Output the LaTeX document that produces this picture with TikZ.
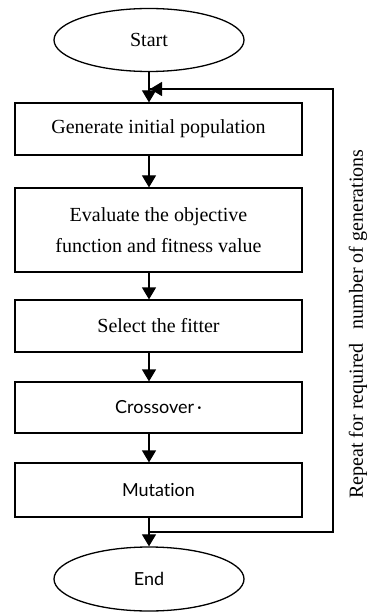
\documentclass[tikz,border=0pt]{standalone}
\usepackage{fontspec}
\setmainfont{Liberation Serif}
\newfontfamily\gillish[Ligatures={NoCommon,NoDiscretionary}]{Lato}
\usetikzlibrary{arrows.meta,shapes.geometric}
\tikzset{
  flowbox/.style={draw, line width=1.2pt, minimum width=287pt, inner sep=0pt, font=\fontsize{20}{31}\selectfont, align=center},
  term/.style={draw, ellipse, line width=1.3pt, minimum width=190pt, minimum height=63pt, inner sep=0pt, font=\fontsize{20}{24}\selectfont},
  sanslabel/.style={font=\gillish\fontsize{18}{22}\selectfont},
  flow/.style={line width=1.2pt, -{Triangle[length=12pt,width=14pt]}},
  loopline/.style={line width=1.4pt}
}
\begin{document}
\begin{tikzpicture}[x=1pt,y=-1pt]
\useasboundingbox (0,0) rectangle (377,612);
\node[term] (start) at (149,40) {Start};
\node[flowbox, minimum height=52pt] (gen) at (158.5,129) {Generate initial population};
\node[flowbox, minimum height=84pt] (eval) at (158.5,230) {Evaluate the objective\\function and fitness value};
\node[flowbox, minimum height=52pt] (sel) at (158.5,326) {Select the fitter};
\node[flowbox, minimum height=51pt, sanslabel] (cross) at (158.5,407.5) {Crossover\,·};
\node[flowbox, minimum height=54pt, sanslabel] (mut) at (158.5,490) {Mut\kern0ptation};
\node[term, minimum height=64pt, sanslabel] (end) at (149,579) {End};
\node[rotate=90, font=\fontsize{20}{24}\selectfont] (rep) at (358,324) {Repeat for required\hspace{0.7em}number of generations};
\coordinate (j1) at (149,532);
\coordinate (r1) at (333,532);
\coordinate (r2) at (333,89);
\coordinate (j2) at (150,89);
\draw[flow] (start.south) -- (start.south |- gen.north);
\draw[flow] (start.south |- gen.south) -- (start.south |- eval.north);
\draw[flow] (start.south |- eval.south) -- (start.south |- sel.north);
\draw[flow] (start.south |- sel.south) -- (start.south |- cross.north);
\draw[flow] (start.south |- cross.south) -- (start.south |- mut.north);
\draw[flow] (start.south |- mut.south) -- (end.north);
\draw[loopline] (j1) -- (r1) -- (r2) -- (j2);
\draw[flow] (r2) -- (j2);
\end{tikzpicture}
\end{document}
